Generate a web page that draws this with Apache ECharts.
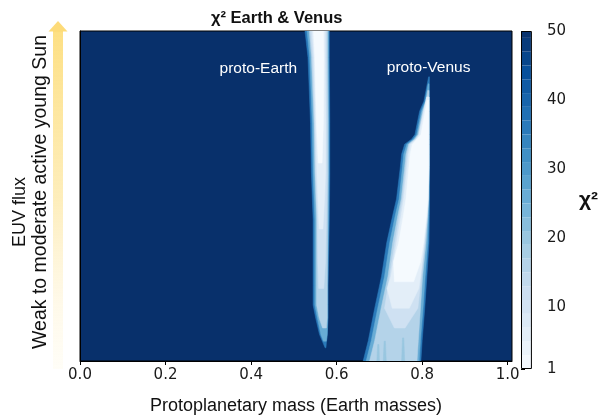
<!DOCTYPE html>
<html><head><meta charset="utf-8">
<script src="https://cdn.jsdelivr.net/npm/echarts@6/dist/echarts.min.js"></script>
<style>html,body{margin:0;padding:0;background:#fff}#chart{width:600px;height:420px}</style>
</head><body><div id="chart"></div>
<script>
// Axis ticks
const massTicks = [0.0, 0.2, 0.4, 0.6, 0.8, 1.0];
const chi2Ticks = [1, 10, 20, 30, 40, 50];
// Filled-contour level boundaries shown in the colour bar
const colorbarSteps = [1, 3, 5, 7, 9, 11, 13, 15, 17, 19, 21, 23, 25, 27, 29, 31, 33, 35, 37, 39, 41, 43, 45, 47, 49, 50];

// Contour regions. Each row: [EUV flux (normalised 0..1), left mass, right mass]
// proto-Earth
const earthRim = [[0.04,0.573,0.575],[0.08,0.560,0.578],[0.13,0.551,0.580],[0.17,0.545,0.580],[0.23,0.545,0.580],[0.43,0.545,0.583],[0.57,0.541,0.584],[0.72,0.539,0.584],[0.92,0.533,0.583],[1.00,0.526,0.583]];
const earthEdge = [[0.06,0.569,0.576],[0.08,0.563,0.578],[0.13,0.555,0.579],[0.17,0.549,0.579],[0.23,0.549,0.579],[0.43,0.549,0.581],[0.57,0.545,0.582],[0.72,0.543,0.582],[0.92,0.537,0.581],[1.00,0.531,0.581]];
const earthMid = [[0.10,0.567,0.576],[0.13,0.559,0.578],[0.17,0.553,0.578],[0.23,0.553,0.578],[0.43,0.553,0.579],[0.57,0.549,0.580],[0.72,0.547,0.580],[0.92,0.541,0.579],[1.00,0.536,0.579]];
const earthLight = [[0.22,0.558,0.570],[0.30,0.556,0.574],[0.43,0.555,0.576],[0.57,0.551,0.577],[0.72,0.549,0.577],[0.92,0.544,0.576],[1.00,0.539,0.576]];
const earthInner = [[0.40,0.559,0.568],[0.50,0.556,0.572],[0.57,0.554,0.574],[0.72,0.551,0.574],[0.92,0.547,0.573],[1.00,0.543,0.573]];
const earthCore = [[0.60,0.557,0.566],[0.72,0.553,0.569],[0.92,0.549,0.570],[1.00,0.546,0.569]];
// proto-Venus
const venusRim = [[0.0,0.662,0.797],[0.062,0.674,0.800],[0.16,0.689,0.806],[0.257,0.705,0.811],[0.358,0.717,0.816],[0.441,0.731,0.817],[0.491,0.740,0.817],[0.589,0.749,0.817],[0.627,0.752,0.817],[0.657,0.759,0.817],[0.672,0.775,0.817],[0.686,0.783,0.817],[0.757,0.794,0.817],[0.787,0.804,0.817],[0.861,0.815,0.817]];
const venusEdge = [[0.0,0.669,0.793],[0.062,0.681,0.796],[0.16,0.696,0.802],[0.257,0.712,0.807],[0.358,0.724,0.813],[0.441,0.737,0.815],[0.491,0.746,0.816],[0.589,0.754,0.816],[0.627,0.757,0.816],[0.657,0.764,0.816],[0.672,0.779,0.816],[0.686,0.787,0.816],[0.757,0.798,0.816],[0.787,0.807,0.816],[0.84,0.814,0.816]];
const venusMid = [[0.0,0.677,0.788],[0.062,0.689,0.791],[0.16,0.704,0.796],[0.257,0.720,0.801],[0.358,0.731,0.809],[0.441,0.743,0.813],[0.491,0.751,0.815],[0.589,0.759,0.816],[0.627,0.762,0.816],[0.657,0.768,0.816],[0.672,0.782,0.816],[0.686,0.790,0.816],[0.757,0.801,0.816],[0.787,0.809,0.816],[0.82,0.813,0.816]];
const venusStreakA = [[0.0,0.694,0.700],[0.05,0.696,0.699]];
const venusStreakB = [[0.0,0.709,0.716],[0.06,0.711,0.714]];
const venusStreakC = [[0.0,0.752,0.759],[0.07,0.754,0.757]];
const venusLight = [[0.10,0.735,0.760],[0.16,0.712,0.790],[0.257,0.724,0.798],[0.358,0.736,0.806],[0.441,0.747,0.812],[0.491,0.754,0.814],[0.589,0.762,0.816],[0.627,0.765,0.816],[0.657,0.770,0.816],[0.672,0.784,0.816],[0.686,0.792,0.816],[0.757,0.803,0.816],[0.80,0.811,0.816]];
const venusInner = [[0.16,0.730,0.770],[0.22,0.718,0.792],[0.257,0.727,0.796],[0.358,0.740,0.805],[0.441,0.751,0.811],[0.491,0.757,0.814],[0.589,0.765,0.816],[0.627,0.768,0.816],[0.657,0.773,0.816],[0.672,0.786,0.816],[0.686,0.793,0.816],[0.757,0.804,0.816],[0.80,0.811,0.816]];
const venusCore = [[0.24,0.735,0.780],[0.30,0.733,0.796],[0.358,0.745,0.803],[0.441,0.756,0.810],[0.491,0.762,0.813],[0.589,0.769,0.815],[0.627,0.772,0.815],[0.657,0.777,0.815],[0.686,0.797,0.815],[0.757,0.807,0.815],[0.79,0.812,0.815]];

// Region annotations
const bandNames = ['proto-Earth', 'proto-Venus'];
const bandLabelMass = [0.417, 0.815];
const bandLabelFlux = [0.885, 0.89];

// chi-squared value filling each region (outermost first, inner regions drawn on top)
const regions = [earthRim, earthEdge, earthMid, earthLight, earthInner, earthCore,
                 venusRim, venusEdge, venusMid, venusStreakA, venusStreakB, venusStreakC,
                 venusLight, venusInner, venusCore];
const regionChi2 = [36, 26, 16, 11, 6, 1.5,
                    36, 26, 16, 20, 20, 20,
                    11, 6, 1.5];

const contourData = regions.map((r, i) => [regionChi2[i], i]);
const colorbarData = colorbarSteps.slice(0, -1).map((lo, i) => {
  const hi = colorbarSteps[i + 1];
  return [(lo + hi) / 2, lo, hi];
});
const labelData = bandNames.map((n, i) => ({ name: n, value: [bandLabelMass[i], bandLabelFlux[i]] }));

const blues = ['#f7fbff','#deebf7','#c6dbef','#9ecae1','#6baed6','#4292c6','#2171b5','#08519c','#08306b'];

const chart = echarts.init(document.getElementById('chart'), null, { renderer: 'canvas' });
chart.setOption({
  animation: false,
  title: {
    text: 'χ² Earth & Venus', left: 206, top: 5,
    textStyle: { fontFamily: 'Liberation Sans, Arial, sans-serif', fontWeight: 'bold', fontSize: 16.5, color: '#111' }
  },
  grid: [
    { left: 80, top: 31, width: 432, height: 338, show: true, backgroundColor: '#08306b', borderColor: '#000', borderWidth: 1 },
    { left: 521, top: 31, width: 17, height: 338, show: false }
  ],
  xAxis: [
    {
      gridIndex: 0, type: 'value', min: 0, max: 1.01, z: 5,
      name: 'Protoplanetary mass (Earth masses)', nameLocation: 'middle', nameGap: 36,
      nameTextStyle: { fontFamily: 'Liberation Sans, Arial, sans-serif', fontSize: 18, color: '#111' },
      axisLine: { show: true, lineStyle: { color: '#000', width: 1 } },
      axisTick: { show: true, length: 4, lineStyle: { color: '#000' }, customValues: massTicks },
      axisLabel: { margin: 7, fontFamily: 'DejaVu Sans, sans-serif', fontSize: 15, color: '#1a1a1a',
                   customValues: massTicks, formatter: v => v.toFixed(1) },
      splitLine: { show: false }
    },
    { gridIndex: 1, type: 'value', min: 0, max: 1, show: false }
  ],
  yAxis: [
    { gridIndex: 0, type: 'value', min: 0, max: 1, axisLine: { show: true, lineStyle: { color: '#000' } },
      axisTick: { show: false }, axisLabel: { show: false }, splitLine: { show: false } },
    {
      gridIndex: 1, type: 'value', min: 1, max: 50, position: 'right',
      name: 'χ²', nameLocation: 'middle', nameGap: 48, nameRotate: 0,
      nameTextStyle: { fontFamily: 'Liberation Sans, Arial, sans-serif', fontWeight: 'bold', fontSize: 21, color: '#111' },
      axisLine: { show: false },
      axisTick: { show: true, length: 4, lineStyle: { color: '#000' }, customValues: chi2Ticks },
      axisLabel: { margin: 16, fontFamily: 'DejaVu Sans, sans-serif', fontSize: 15, color: '#1a1a1a', customValues: chi2Ticks },
      splitLine: { show: false }
    }
  ],
  visualMap: {
    show: false, type: 'continuous', min: 1, max: 50, dimension: 0, seriesIndex: [0, 1],
    inRange: { color: blues }
  },
  series: [
    {
      // filled chi-squared contours
      type: 'custom', xAxisIndex: 0, yAxisIndex: 0, clip: true, data: contourData,
      renderItem: (params, api) => {
        const rows = regions[api.value(1)];
        const left = rows.map(r => api.coord([r[1], r[0]]));
        const right = rows.slice().reverse().map(r => api.coord([r[2], r[0]]));
        return { type: 'polygon', shape: { points: left.concat(right) },
                 style: { fill: api.visual('color'), stroke: api.visual('color'), lineWidth: 0.5 } };
      }
    },
    {
      // colour bar steps
      type: 'custom', xAxisIndex: 1, yAxisIndex: 1, data: colorbarData,
      renderItem: (params, api) => {
        const p0 = api.coord([0, api.value(1)]);
        const p1 = api.coord([1, api.value(2)]);
        return { type: 'rect', shape: { x: p0[0], y: p1[1], width: p1[0] - p0[0], height: p0[1] - p1[1] },
                 style: { fill: api.visual('color') } };
      }
    },
    {
      // colour bar outline
      type: 'custom', xAxisIndex: 1, yAxisIndex: 1, data: [[0]], z: 5,
      renderItem: (params, api) => {
        const p0 = api.coord([0, 1]);
        const p1 = api.coord([1, 50]);
        return { type: 'rect', shape: { x: p0[0] + 0.5, y: p1[1] + 0.5, width: p1[0] - p0[0], height: p0[1] - p1[1] - 1 },
                 style: { fill: 'none', stroke: '#000', lineWidth: 1 } };
      }
    },
    {
      type: 'scatter', xAxisIndex: 0, yAxisIndex: 0, symbolSize: 0, data: labelData, z: 6,
      itemStyle: { opacity: 1 },
      label: { show: true, position: 'inside', formatter: p => p.name, color: '#ffffff', opacity: 1,
               fontFamily: 'Liberation Sans, Arial, sans-serif', fontSize: 15.5 }
    }
  ],
  graphic: [
    {
      type: 'rect', left: 53, top: 31, shape: { width: 10, height: 338 },
      style: { fill: new echarts.graphic.LinearGradient(0, 0, 0, 1, [
        { offset: 0, color: 'rgba(253,220,118,0.9)' },
        { offset: 0.5, color: 'rgba(253,232,165,0.75)' },
        { offset: 0.8, color: 'rgba(254,243,210,0.5)' },
        { offset: 1, color: 'rgba(255,251,235,0.4)' }]) }
    },
    { type: 'polygon', shape: { points: [[48.5, 31.5], [67.5, 31.5], [58, 21]] }, style: { fill: 'rgba(253,216,110,0.92)' } },
    {
      type: 'text', x: 20, y: 212, rotation: Math.PI / 2,
      style: { text: 'EUV flux', fontFamily: 'Liberation Sans, Arial, sans-serif', fontSize: 18, fill: '#111', align: 'center', verticalAlign: 'middle' }
    },
    {
      type: 'text', x: 41, y: 192, rotation: Math.PI / 2,
      style: { text: 'Weak to moderate active young Sun', fontFamily: 'Liberation Sans, Arial, sans-serif', fontSize: 19.5, fill: '#111', align: 'center', verticalAlign: 'middle' }
    }
  ]
});
</script></body></html>
